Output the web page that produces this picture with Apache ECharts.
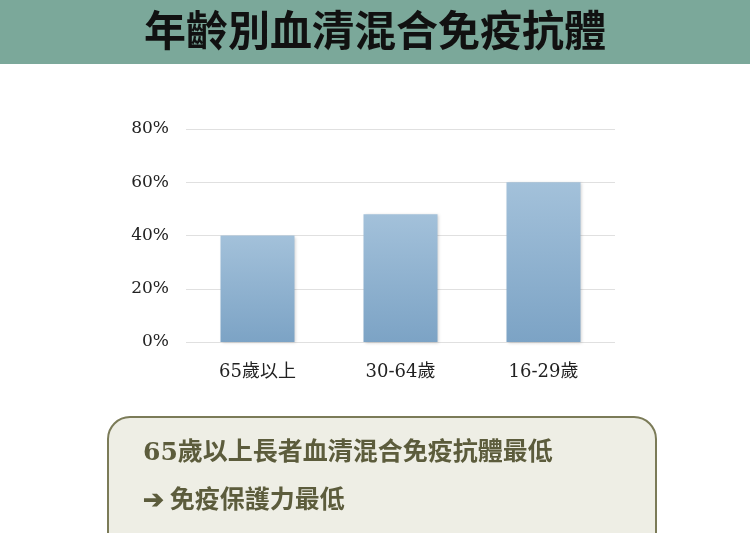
<!DOCTYPE html>
<html>
<head>
<meta charset="utf-8">
<script src="https://cdn.jsdelivr.net/npm/echarts@6/dist/echarts.min.js"></script>
<style>html,body{margin:0;padding:0;background:#fff;}#c{width:750px;height:533px;}</style>
</head>
<body>
<div id="c"></div>
<script>
const title = '年齡別血清混合免疫抗體';
const categories = ['65歲以上', '30-64歲', '16-29歲'];
const values = [40, 48, 60];
const yTicks = [0, 20, 40, 60, 80];
const note1 = '65歲以上長者血清混合免疫抗體最低';
const note2 = '➔ 免疫保護力最低';

const chart = echarts.init(document.getElementById('c'), null, {renderer: 'canvas'});
chart.setOption({
  backgroundColor: '#ffffff',
  animation: false,
  grid: {left: 186, right: 135, top: 129, bottom: 191},
  xAxis: {
    type: 'category',
    data: categories,
    axisLine: {show: false},
    axisTick: {show: false},
    axisLabel: {color: '#222', fontSize: 18, fontFamily: 'Georgia, "DejaVu Serif", "Noto Sans CJK TC", serif', margin: 21}
  },
  yAxis: {
    type: 'value',
    min: yTicks[0],
    max: yTicks[yTicks.length - 1],
    interval: 20,
    axisLine: {show: false},
    axisTick: {show: false},
    splitLine: {lineStyle: {color: '#e0e0e0', width: 1}},
    axisLabel: {formatter: '{value}%', color: '#222', fontSize: 17, fontFamily: 'Georgia, "DejaVu Serif", serif', margin: 17}
  },
  series: [{
    type: 'bar',
    data: values,
    barWidth: 74,
    itemStyle: {
      color: new echarts.graphic.LinearGradient(0, 0, 0, 1, [
        {offset: 0, color: '#a3c1da'},
        {offset: 1, color: '#7ca3c5'}
      ]),
      shadowColor: 'rgba(0,0,0,0.18)',
      shadowBlur: 3,
      shadowOffsetX: 1,
      shadowOffsetY: 1
    }
  }],
  graphic: [
    {type: 'rect', left: 0, top: 0, shape: {width: 750, height: 64}, style: {fill: '#7ba89a'}, z: 0},
    {type: 'text', left: 'center', top: 9, style: {text: title, fontSize: 42, fontWeight: 'bold', fill: '#111', fontFamily: '"Noto Sans CJK TC", sans-serif'}, z: 2},
    {type: 'rect', left: 107, top: 416, shape: {width: 548, height: 150, r: 22}, style: {fill: '#eeeee5', stroke: '#7b7b58', lineWidth: 2}, z: 1},
    {type: 'text', left: 143, top: 441, style: {text: note1, fontSize: 25, fontWeight: 'bold', fill: '#5c5c3c', fontFamily: 'Georgia, "DejaVu Serif", "Noto Sans CJK TC", sans-serif'}, z: 2},
    {type: 'text', left: 143, top: 486, style: {text: note2, fontSize: 25, fontWeight: 'bold', fill: '#5c5c3c', fontFamily: '"Noto Sans CJK TC", sans-serif'}, z: 2}
  ]
});
</script>
</body>
</html>
